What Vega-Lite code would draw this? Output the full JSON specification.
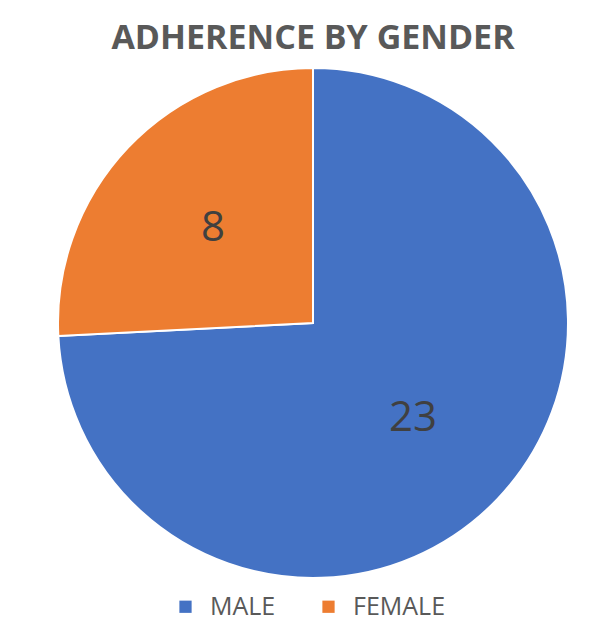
{
  "$schema": "https://vega.github.io/schema/vega-lite/v6.json",
  "width": 576,
  "height": 534,
  "autosize": "none",
  "padding": {"left": 25, "right": 0, "top": 56, "bottom": 32},
  "background": "white",
  "title": {
    "text": "ADHERENCE BY GENDER",
    "anchor": "middle",
    "offset": 0,
    "fontSize": 34,
    "font": "Open Sans",
    "fontWeight": "bold",
    "color": "#595959"
  },
  "data": {
    "values": [
      {"gender": "MALE", "count": 23, "order": 1},
      {"gender": "FEMALE", "count": 8, "order": 2}
    ]
  },
  "encoding": {
    "theta": {"field": "count", "type": "quantitative", "stack": true},
    "order": {"field": "order", "type": "quantitative"}
  },
  "layer": [
    {
      "mark": {"type": "arc", "outerRadius": 255, "stroke": "white", "strokeWidth": 2},
      "encoding": {
        "color": {
          "field": "gender",
          "type": "nominal",
          "sort": ["MALE", "FEMALE"],
          "scale": {"domain": ["MALE", "FEMALE"], "range": ["#4472C4", "#ED7D31"]},
          "legend": {
            "orient": "none",
            "legendX": 148,
            "legendY": 538,
            "direction": "horizontal",
            "title": null,
            "symbolType": "square",
            "symbolSize": 150,
            "symbolStrokeWidth": 0,
            "labelFontSize": 25,
            "labelFont": "Open Sans",
            "labelColor": "#595959",
            "labelOffset": 12,
            "columnPadding": 40,
            "padding": 0
          }
        }
      }
    },
    {
      "mark": {"type": "text", "radius": 138, "fontSize": 42, "font": "Open Sans", "color": "#404040"},
      "encoding": {
        "text": {"field": "count", "type": "quantitative"},
        "detail": {"field": "gender", "type": "nominal"}
      }
    }
  ],
  "config": {"view": {"stroke": null}}
}
